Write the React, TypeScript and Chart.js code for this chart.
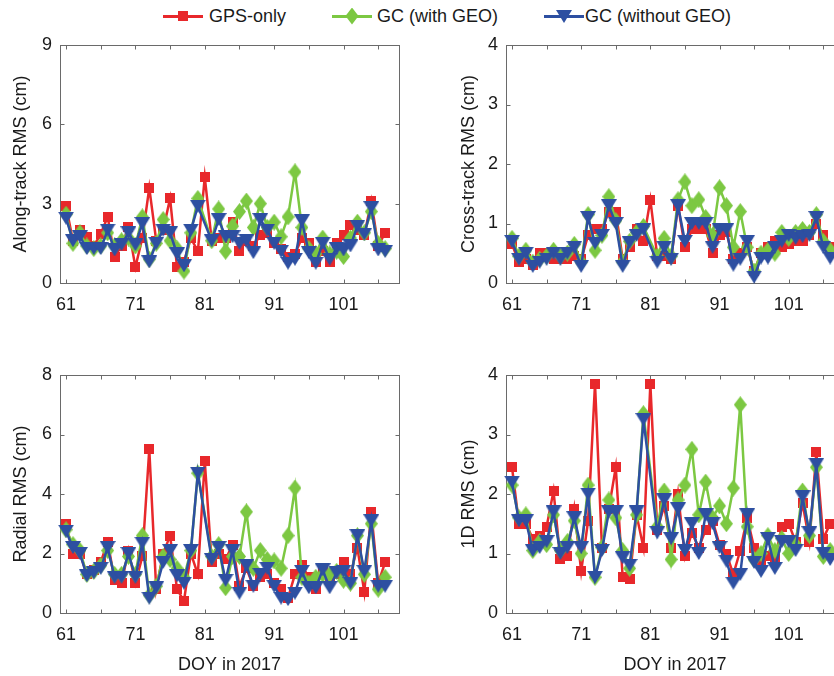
import React, { useEffect, useRef } from 'react';
import { Chart, registerables } from 'chart.js';

Chart.register(...registerables);

// ---------------- data ----------------
const DAYS = [61, 62, 63, 64, 65, 66, 67, 68, 69, 70, 71, 72, 73, 74, 75, 76, 77, 78, 79, 80, 81, 82, 83, 84, 85, 86, 87, 88, 89, 90, 91, 92, 93, 94, 95, 96, 97, 98, 99, 100, 101, 102, 103, 104, 105, 106, 107];
const X_TICKS = [61, 66, 71, 76, 81, 86, 91, 96, 101, 106];
const X_LABELS = [61, 71, 81, 91, 101];

const ALONG_GPS = [2.9, 1.6, 2.0, 1.75, 1.4, 1.85, 2.5, 1.0, 1.4, 2.1, 0.6, 1.7, 3.6, 1.6, 2.0, 3.2, 0.6, 0.8, 1.7, 1.2, 4.0, 1.6, 1.7, 1.7, 2.3, 1.2, 1.6, 1.4, 1.8, 1.9, 1.5, 1.3, 1.0, 1.1, 1.7, 1.5, 0.8, 1.2, 0.8, 1.5, 1.8, 2.2, 2.0, 1.8, 3.1, 1.4, 1.9];
const ALONG_GC_GEO = [2.6, 1.5, 1.9, 1.4, 1.3, 1.4, 1.9, 1.4, 1.6, 1.7, 1.4, 2.5, 0.9, 1.5, 2.4, 1.6, 1.3, 0.45, 1.9, 3.2, null, 1.6, 2.8, 1.2, 2.15, 2.7, 3.1, 2.1, 3.0, 2.1, 2.3, 1.75, 2.5, 4.2, 2.1, 1.3, 1.1, 1.7, 1.1, 1.2, 1.0, 1.7, 2.3, 1.9, 2.7, 1.5, 1.3];
const ALONG_GC_NOGEO = [2.45, 1.6, 1.75, 1.3, 1.3, 1.3, 2.0, 1.25, 1.45, 1.9, 1.45, 2.25, 0.8, 1.5, 2.0, 1.9, 1.1, 0.65, 2.0, 2.9, null, 1.6, 2.4, 1.75, 1.75, 1.5, 1.6, 1.15, 2.4, 2.0, 1.5, 1.2, 0.75, 0.9, 2.35, 1.15, 0.75, 1.5, 0.9, 1.3, 1.25, 1.4, 2.15, 1.85, 2.85, 1.25, 1.2];

const CROSS_GPS = [0.65, 0.35, 0.4, 0.3, 0.5, 0.5, 0.4, 0.4, 0.4, 0.45, 0.4, 0.8, 0.9, 0.9, 1.2, 1.2, 0.4, 0.6, 0.9, 0.7, 1.4, 0.45, 0.45, 0.4, 1.3, 0.6, 0.9, 0.9, 0.9, 0.5, 0.8, 0.85, 0.4, 0.5, 0.6, 0.2, 0.5, 0.6, 0.7, 0.6, 0.65, 0.7, 0.7, 0.8, 1.0, 0.8, 0.6];
const CROSS_GC_GEO = [0.75, 0.45, 0.55, 0.35, 0.4, 0.45, 0.55, 0.45, 0.5, 0.65, 0.35, 1.15, 0.55, 0.8, 1.45, 1.05, 0.35, 0.7, 0.85, 0.95, null, 0.45, 0.75, 0.45, 1.4, 1.7, 1.3, 1.4, 1.1, 0.8, 1.6, 1.3, 0.6, 1.2, 0.6, 0.2, 0.5, 0.55, 0.5, 0.85, 0.75, 0.85, 0.9, 0.85, 1.15, 0.7, 0.55];
const CROSS_GC_NOGEO = [0.7, 0.4, 0.5, 0.28, 0.35, 0.4, 0.5, 0.4, 0.5, 0.6, 0.28, 1.1, 0.67, 0.8, 1.3, 1.0, 0.28, 0.68, 0.8, 0.9, null, 0.35, 0.6, 0.4, 1.3, 0.7, 1.0, 1.0, 1.0, 0.6, 0.9, 0.9, 0.3, 0.4, 0.7, 0.1, 0.42, 0.42, 0.6, 0.7, 0.8, 0.75, 0.78, 0.8, 1.1, 0.6, 0.42];

const RADIAL_GPS = [3.0, 2.0, 2.0, 1.3, 1.45, 1.7, 2.4, 1.1, 1.0, 2.1, 1.0, 1.9, 5.5, 0.8, 2.0, 2.6, 0.8, 0.4, 2.0, 1.3, 5.1, 1.7, 2.0, 1.8, 2.3, 0.9, 1.5, 0.9, 1.2, 1.3, 1.0, 0.8, 0.5, 1.3, 1.6, 1.2, 0.8, 1.5, 1.2, 1.3, 1.7, 1.3, 2.2, 0.7, 3.4, 1.0, 1.7];
const RADIAL_GC_GEO = [2.8, 2.3, 2.1, 1.3, 1.4, 1.6, 2.1, 1.3, 1.3, 1.9, 1.3, 2.6, 0.6, 0.9, 1.9, 1.8, 1.5, 1.2, 2.1, 4.7, null, 1.9, 2.3, 0.85, 1.9, 1.9, 3.4, 1.5, 2.1, 1.8, 1.75, 1.5, 2.6, 4.2, 1.2, 1.0, 1.2, 1.3, 1.3, 1.4, 1.1, 1.0, 2.6, 1.3, 3.0, 0.8, 1.2];
const RADIAL_GC_NOGEO = [2.75, 2.2, 2.0, 1.25, 1.35, 1.5, 2.2, 1.2, 1.2, 2.0, 1.2, 2.35, 0.5, 0.85, 1.7, 2.1, 1.25, 1.0, 2.1, 4.7, null, 1.8, 2.2, 1.1, 2.1, 0.67, 1.6, 0.9, 1.3, 1.5, 0.9, 0.5, 0.45, 0.67, 1.4, 0.85, 0.85, 1.45, 0.85, 1.35, 1.4, 1.0, 2.6, 1.4, 3.1, 0.9, 0.9];

const ONED_GPS = [2.45, 1.5, 1.5, 1.25, 1.3, 1.45, 2.05, 0.9, 0.95, 1.75, 0.7, 1.55, 3.85, 1.1, 1.75, 2.45, 0.6, 0.57, 1.65, 1.1, 3.85, 1.4, 1.8, 1.1, 2.0, 0.95, 1.35, 1.1, 1.4, 1.55, 1.15, 1.0, 0.65, 1.05, 1.6, 1.1, 0.85, 0.95, 0.9, 1.45, 1.5, 1.2, 1.85, 1.2, 2.7, 1.25, 1.5];
const ONED_GC_GEO = [2.15, 1.6, 1.65, 1.05, 1.2, 1.15, 1.65, 1.05, 1.2, 1.55, 1.0, 2.15, 0.6, 1.1, 1.9, 1.6, 1.05, 0.75, 1.65, 3.35, null, 1.45, 2.05, 0.9, 1.9, 2.15, 2.75, 1.65, 2.2, 1.6, 1.8, 1.5, 2.1, 3.5, 1.45, 0.9, 1.0, 1.3, 1.05, 1.25, 1.0, 1.15, 2.05, 1.3, 2.45, 0.95, 1.05];
const ONED_GC_NOGEO = [2.2, 1.55, 1.55, 1.05, 1.1, 1.2, 1.7, 1.0, 1.1, 1.6, 1.1, 2.0, 0.6, 1.05, 1.7, 1.7, 0.93, 0.8, 1.7, 3.25, null, 1.35, 1.9, 1.25, 1.75, 1.05, 1.5, 1.0, 1.65, 1.5, 1.1, 0.87, 0.5, 0.65, 1.65, 0.85, 0.7, 1.25, 0.75, 1.2, 1.2, 1.05, 1.95, 1.35, 2.5, 1.0, 0.9];

const SERIES_NAMES = ['GPS-only', 'GC (with GEO)', 'GC (without GEO)'];

// ---------------- styles ----------------
const RED = '#E8282B';
const GREEN = '#7CC842';
const BLUE = '#2D4FA1';
const FONT = '"Liberation Sans", Arial, Helvetica, sans-serif';
const TEXT = '#1a1a1a';
const AXIS = '#6a6a6a';

Chart.defaults.font.family = FONT;

function makeMarker(kind: string, color: string): HTMLCanvasElement {
  const c = document.createElement('canvas');
  const ctx = c.getContext('2d') as CanvasRenderingContext2D;
  if (kind === 'square') {
    c.width = 10; c.height = 10;
    ctx.fillStyle = color;
    ctx.fillRect(0, 0, 10, 10);
  } else if (kind === 'diamond') {
    c.width = 13; c.height = 17;
    ctx.fillStyle = color;
    ctx.beginPath();
    ctx.moveTo(6.5, 0); ctx.lineTo(13, 8.5); ctx.lineTo(6.5, 17); ctx.lineTo(0, 8.5);
    ctx.closePath(); ctx.fill();
  } else {
    c.width = 16; c.height = 13;
    ctx.fillStyle = color;
    ctx.beginPath();
    ctx.moveTo(0, 0); ctx.lineTo(16, 0); ctx.lineTo(8, 13);
    ctx.closePath(); ctx.fill();
  }
  return c;
}

const boxPlugin = {
  id: 'matlabBox',
  beforeDatasetsDraw(chart: any) {
    const { ctx, chartArea: a, scales } = chart;
    const x = scales.x, y = scales.y;
    const L = Math.round(a.left) + 0.5, R = Math.round(a.right) + 0.5;
    const T = Math.round(a.top) + 0.5, B = Math.round(a.bottom) + 0.5;
    ctx.save();
    ctx.strokeStyle = AXIS;
    ctx.lineWidth = 1;
    ctx.strokeRect(L, T, R - L, B - T);
    ctx.beginPath();
    x.ticks.forEach((t: any) => {
      const px = Math.round(x.getPixelForValue(t.value)) + 0.5;
      ctx.moveTo(px, B); ctx.lineTo(px, B - 4);
      ctx.moveTo(px, T); ctx.lineTo(px, T + 4);
    });
    y.ticks.forEach((t: any) => {
      const py = Math.round(y.getPixelForValue(t.value)) + 0.5;
      ctx.moveTo(L, py); ctx.lineTo(L + 4, py);
      ctx.moveTo(R, py); ctx.lineTo(R - 4, py);
    });
    ctx.stroke();
    ctx.restore();
  },
};

type PanelProps = {
  left: number; top: number; width: number; height: number;
  yAxisWidth: number; xAxisHeight: number; padTop: number; padRight: number;
  yTitle: string; yTitlePad: number; yMax: number; yStep: number;
  showXTitle: boolean;
  gps: (number | null)[]; gcGeo: (number | null)[]; gcNoGeo: (number | null)[];
};

function Panel(p: PanelProps) {
  const ref = useRef<HTMLCanvasElement>(null);
  useEffect(() => {
    if (!ref.current) return;
    const mk = (vals: (number | null)[]) => DAYS.map((d, i) => ({ x: d, y: vals[i] }));
    const ds = (label: string, vals: (number | null)[], color: string, marker: string, order: number) => ({
      label,
      data: mk(vals),
      borderColor: color,
      backgroundColor: color,
      borderWidth: 2.5,
      pointStyle: makeMarker(marker, color),
      pointRadius: 7,
      pointHoverRadius: 7,
      spanGaps: true,
      clip: false,
      order,
      tension: 0,
    });
    const chart = new Chart(ref.current, {
      type: 'line',
      data: {
        datasets: [
          ds(SERIES_NAMES[0], p.gps, RED, 'square', 3),
          ds(SERIES_NAMES[1], p.gcGeo, GREEN, 'diamond', 2),
          ds(SERIES_NAMES[2], p.gcNoGeo, BLUE, 'triangle', 1),
        ] as any,
      },
      options: {
        animation: false,
        responsive: false,
        maintainAspectRatio: false,
        events: [],
        layout: { padding: { left: 0, top: p.padTop, right: p.padRight, bottom: 0 } },
        plugins: { legend: { display: false }, tooltip: { enabled: false } },
        scales: {
          x: {
            type: 'linear',
            min: 60.13,
            max: 109,
            grid: { display: false, drawTicks: false },
            border: { display: false },
            afterBuildTicks: (s: any) => { s.ticks = X_TICKS.map((v) => ({ value: v })); },
            afterFit: (s: any) => { s.height = p.xAxisHeight; },
            ticks: {
              autoSkip: false,
              maxRotation: 0,
              padding: 11,
              color: TEXT,
              font: { size: 18 },
              callback: (v: any) => (X_LABELS.includes(Number(v)) ? String(v) : ''),
            },
            title: {
              display: p.showXTitle,
              text: 'DOY in 2017',
              color: TEXT,
              font: { size: 18 },
              padding: { top: 0, bottom: 0 },
            },
          },
          y: {
            min: 0,
            max: p.yMax,
            grid: { display: false, drawTicks: false },
            border: { display: false },
            afterFit: (s: any) => { s.width = p.yAxisWidth; },
            ticks: { stepSize: p.yStep, padding: 8, color: TEXT, font: { size: 18 } },
            title: {
              display: true,
              text: p.yTitle,
              color: TEXT,
              font: { size: 18 },
              padding: { top: p.yTitlePad, bottom: 0 },
            },
          },
        },
      } as any,
      plugins: [boxPlugin],
    });
    return () => chart.destroy();
  }, []);
  return (
    <canvas
      ref={ref}
      width={p.width}
      height={p.height}
      style={{ position: 'absolute', left: p.left, top: p.top, width: p.width, height: p.height }}
    />
  );
}

function LegendItem({ x, color, kind, text, textX }: { x: number; color: string; kind: string; text: string; textX: number }) {
  const cy = 16;
  let marker: any;
  if (kind === 'square') {
    marker = { left: x + 20 - 5, top: cy - 5, width: 10, height: 10, background: color };
  } else if (kind === 'diamond') {
    marker = { left: x + 20 - 6.5, top: cy - 8.5, width: 13, height: 17, background: color, clipPath: 'polygon(50% 0, 100% 50%, 50% 100%, 0 50%)' };
  } else {
    marker = { left: x + 20 - 8, top: cy - 6, width: 16, height: 13, background: color, clipPath: 'polygon(0 0, 100% 0, 50% 100%)' };
  }
  return (
    <>
      <div style={{ position: 'absolute', left: x, top: cy - 1.5, width: 40, height: 3, background: color }} />
      <div style={{ position: 'absolute', ...marker }} />
      <span style={{ position: 'absolute', left: textX, top: 6, lineHeight: '20px', fontSize: 18, fontFamily: FONT, color: TEXT, whiteSpace: 'nowrap' }}>{text}</span>
    </>
  );
}

export default function App() {
  return (
    <div style={{ position: 'fixed', left: 0, top: 0, width: 834, height: 676, overflow: 'hidden', background: '#fff' }}>
      <LegendItem x={163} color={RED} kind="square" text={SERIES_NAMES[0]} textX={209} />
      <LegendItem x={332} color={GREEN} kind="diamond" text={SERIES_NAMES[1]} textX={377} />
      <LegendItem x={544} color={BLUE} kind="triangle" text={SERIES_NAMES[2]} textX={585} />

      <Panel left={0} top={0} width={420} height={330} yAxisWidth={60} xAxisHeight={47} padTop={45} padRight={21}
        yTitle="Along-track RMS (cm)" yTitlePad={10} yMax={9} yStep={3} showXTitle={false}
        gps={ALONG_GPS} gcGeo={ALONG_GC_GEO} gcNoGeo={ALONG_GC_NOGEO} />
      <Panel left={420} top={0} width={440} height={330} yAxisWidth={86} xAxisHeight={47} padTop={45} padRight={16}
        yTitle="Cross-track RMS (cm)" yTitlePad={38} yMax={4} yStep={1} showXTitle={false}
        gps={CROSS_GPS} gcGeo={CROSS_GC_GEO} gcNoGeo={CROSS_GC_NOGEO} />
      <Panel left={0} top={330} width={420} height={346} yAxisWidth={60} xAxisHeight={63} padTop={45} padRight={21}
        yTitle="Radial RMS (cm)" yTitlePad={10} yMax={8} yStep={2} showXTitle={true}
        gps={RADIAL_GPS} gcGeo={RADIAL_GC_GEO} gcNoGeo={RADIAL_GC_NOGEO} />
      <Panel left={420} top={330} width={440} height={346} yAxisWidth={86} xAxisHeight={63} padTop={45} padRight={16}
        yTitle="1D RMS (cm)" yTitlePad={38} yMax={4} yStep={1} showXTitle={true}
        gps={ONED_GPS} gcGeo={ONED_GC_GEO} gcNoGeo={ONED_GC_NOGEO} />
    </div>
  );
}
